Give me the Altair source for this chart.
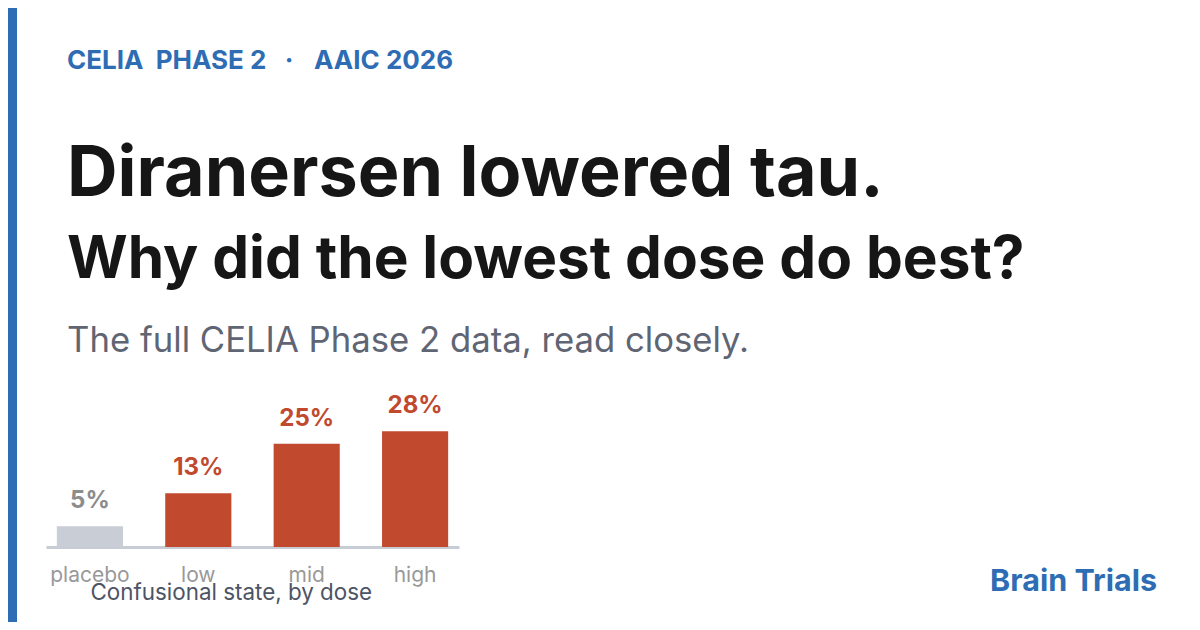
import altair as alt
import pandas as pd

# ---- data ----
doses = ["placebo", "low", "mid", "high"]
rates = [5, 13, 25, 28]
rate_labels = ["5%", "13%", "25%", "28%"]
groups = ["placebo", "drug", "drug", "drug"]

kicker = ["CELIA\u00a0\u00a0PHASE 2\u00a0\u00a0\u00a0·\u00a0\u00a0\u00a0\u200aAAIC 2026"]
headline = ["Diranersen lowered tau."]
headline2 = ["Why did the lowest dose do best?"]
subhead = ["The full CELIA Phase 2 data, read closely."]
brand = ["Brain Trials"]
axis_title = "Confusional state, by dose"

FONT = "Inter"
BLUE = "#2e6db4"
ORANGE = "#c0492e"
GREY_BAR = "#c8cdd6"

df = pd.DataFrame({"dose": doses, "rate": rates, "label": rate_labels, "group": groups})

W, H = 413, 124
PAD_L, PAD_T = 38, 415
TOTAL_W, TOTAL_H = 1184, 614

x_enc = alt.X(
    "dose:N",
    sort=doses,
    scale=alt.Scale(paddingInner=0.39, paddingOuter=0.1),
    axis=alt.Axis(
        title=axis_title,
        labelAngle=0,
        labelFont=FONT,
        labelFontSize=21,
        labelColor="#999999",
        labelPadding=17,
        ticks=False,
        domainColor="#c8ccd4",
        domainWidth=3,
        titleFont=FONT,
        titleFontSize=22.4,
        titleFontWeight="normal",
        titleColor="#4d5464",
        titleAnchor="start",
        titleAlign="left",
        titleX=44,
        titleY=52,
        titleBaseline="alphabetic",
    ),
)
y_enc = alt.Y("rate:Q", scale=alt.Scale(domain=[0, 30]), axis=None)

bars = alt.Chart(df).mark_bar().encode(
    x=x_enc,
    y=y_enc,
    color=alt.Color(
        "group:N",
        scale=alt.Scale(domain=["placebo", "drug"], range=[GREY_BAR, ORANGE]),
        legend=None,
    ),
)

labels = alt.Chart(df).mark_text(
    dy=-25, baseline="middle", font=FONT, fontSize=24, fontWeight="bold"
).encode(
    x=alt.X("dose:N", sort=doses),
    y=y_enc,
    text="label:N",
    color=alt.Color(
        "group:N",
        scale=alt.Scale(domain=["placebo", "drug"], range=["#8c8c8c", ORANGE]),
        legend=None,
    ),
)


def header_text(values, x, y, size, weight, color, align="left"):
    return alt.Chart(pd.DataFrame({"t": values})).mark_text(
        align=align,
        baseline="alphabetic",
        font=FONT,
        fontSize=size,
        fontWeight=weight,
        color=color,
    ).encode(x=alt.value(x), y=alt.value(y), text="t:N")


strip = alt.Chart(pd.DataFrame({"t": [0]})).mark_rect(color=BLUE).encode(
    x=alt.value(-PAD_L), x2=alt.value(-PAD_L + 9), y=alt.value(-PAD_T), y2=alt.value(TOTAL_H - PAD_T)
)

t_kicker = header_text(kicker, 21, 69 - 423, 26, "bold", BLUE)
t_head = header_text(headline, 21, 196 - 423, 70, "bold", "#161616")
t_head2 = header_text(headline2, 21, 278 - 423, 58.5, "bold", "#161616")
t_sub = header_text(subhead, 21, 352 - 423, 34.7, "normal", "#5f6573")
t_brand = header_text(brand, 1111, 591 - 423, 30.5, "bold", BLUE, align="right")

chart = (
    alt.layer(strip, bars, labels, t_kicker, t_head, t_head2, t_sub, t_brand)
    .resolve_scale(color="independent")
    .properties(
        width=W,
        height=H,
        autosize=alt.AutoSizeParams(type="none"),
        padding={"left": PAD_L, "top": PAD_T, "right": TOTAL_W - PAD_L - W, "bottom": TOTAL_H - PAD_T - H},
        background="white",
    )
    .configure_view(stroke=None)
)

chart.save("out.html", embed_options={"renderer": "svg", "actions": False})
